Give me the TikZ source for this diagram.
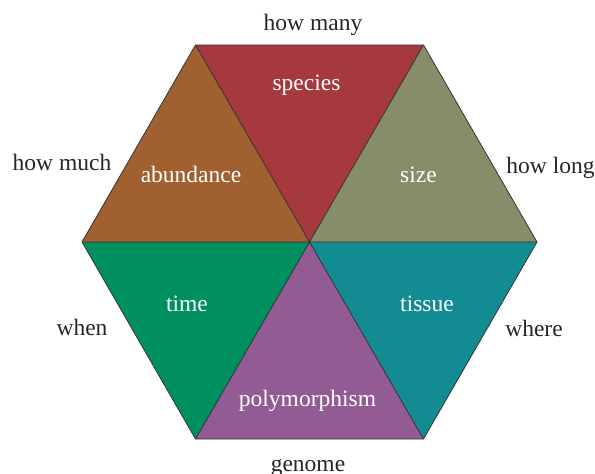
\documentclass[tikz,border=0pt]{standalone}
\usepackage{fontspec}
\setmainfont{Liberation Serif}
\definecolor{cspecies}{HTML}{A5393D}
\definecolor{cabund}{HTML}{A06030}
\definecolor{csize}{HTML}{878C69}
\definecolor{ctime}{HTML}{00905F}
\definecolor{ctissue}{HTML}{138B92}
\definecolor{cpoly}{HTML}{935B94}
\begin{document}
\begin{tikzpicture}[x=1pt,y=-1pt,
  tri/.style={draw=black!80,line width=0.8pt,line join=miter},
  inlab/.style={text=white,anchor=base,inner sep=0pt,font=\fontsize{23.5}{28}\selectfont},
  outlab/.style={text=black!85,anchor=base,inner sep=0pt,font=\fontsize{23.5}{28}\selectfont}]
\useasboundingbox (0,0) rectangle (595,474);
\coordinate (C) at (309.5,242);
\coordinate (TL) at (195.5,45);
\coordinate (TR) at (423.5,45);
\coordinate (R) at (537,242);
\coordinate (BR) at (423.5,439);
\coordinate (BL) at (195.5,439);
\coordinate (L) at (82,242);
\fill[cspecies] (C) -- (TL) -- (TR) -- cycle;
\fill[csize] (C) -- (TR) -- (R) -- cycle;
\fill[ctissue] (C) -- (R) -- (BR) -- cycle;
\fill[cpoly] (C) -- (BR) -- (BL) -- cycle;
\fill[ctime] (C) -- (BL) -- (L) -- cycle;
\fill[cabund] (C) -- (L) -- (TL) -- cycle;
\draw[tri] (TL) -- (TR) -- (R) -- (BR) -- (BL) -- (L) -- cycle;
\draw[tri] (TL) -- (BR) (TR) -- (BL) (L) -- (R);
\node[inlab] (species) at (306.5,90) {species};
\node[inlab] (abundance) at (191,182.5) {abundance};
\node[inlab] (size) at (418.5,182.5) {size};
\node[inlab] (time) at (187,311.5) {time};
\node[inlab] (tissue) at (427,311.5) {tissue};
\node[inlab] (poly) at (307.5,406) {polymorphism};
\node[outlab] (howmany) at (313,30) {how many};
\node[outlab] (howmuch) at (62,170) {how much};
\node[outlab] (howlong) at (550.5,173) {how long};
\node[outlab] (when) at (82,335) {when};
\node[outlab] (where) at (534,336.5) {where};
\node[outlab] (genome) at (308,471.5) {genome};
\end{tikzpicture}
\end{document}
